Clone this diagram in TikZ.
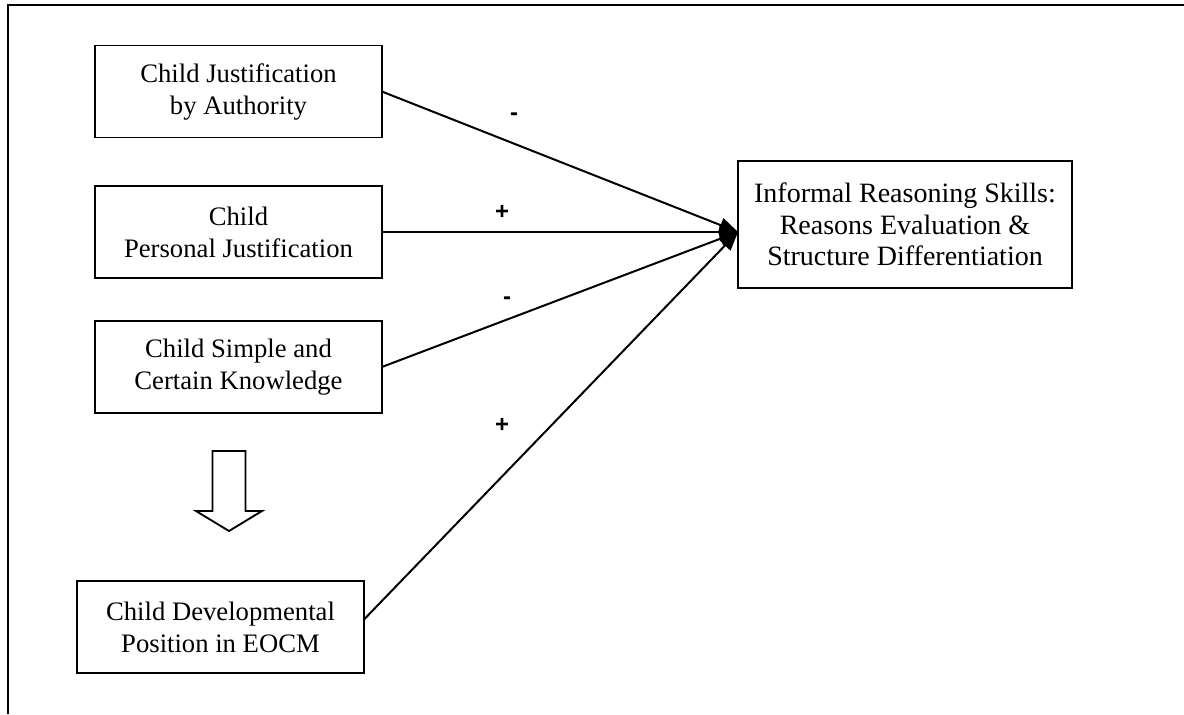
\documentclass[tikz,border=0pt]{standalone}
\usepackage{fontspec}
\setmainfont{Liberation Serif}
\newfontfamily\signfont{Liberation Sans}
\usetikzlibrary{arrows.meta}
\begin{document}
\begin{tikzpicture}[x=0.75pt,y=-0.75pt,
  every node/.style={inner sep=0pt, outer sep=0pt},
  varbox/.style={draw, line width=1.4pt, minimum width=215pt, minimum height=69pt,
    align=center, font=\fontsize{20}{24}\selectfont},
  outbox/.style={draw, line width=1.4pt, minimum width=250pt, minimum height=95pt,
    align=center, font=\fontsize{21}{23.5}\selectfont},
  path/.style={line width=1.5pt, -{Triangle[length=14pt,width=11pt]}},
  sign/.style={font=\signfont\bfseries\fontsize{18}{20}\selectfont}]
\useasboundingbox (0,0) rectangle (1184,714);

% open frame: top and left edges only
\draw[line width=1.5pt] (1184,5) -- (8,5) -- (8,714);

% predictors
\node[varbox] (auth) at (238.5,91.5) {Child Justification\\ by Authority};
\node[varbox] (pers) at (238.5,232) {Child\\Personal Justification};
\node[varbox] (simp) at (238.5,367) {Child Simple and\\Certain Knowledge};
\node[varbox] (dev)  at (220.5,627) {Child Developmental\\Position in EOCM};

% outcome
\node[outbox] (irs) at (905,224.5) {Informal Reasoning Skills:\\Reasons Evaluation \&\\Structure Differentiation};
\coordinate (tip) at (738,232);

% paths into the outcome
\draw[path] (auth.east) -- (tip);
\draw[path] (pers.east) -- (tip);
\draw[path] (simp.east) -- (tip);
\draw[path] ([yshift=5.5pt]dev.east) -- (tip);

% signs
\node[sign] (s1) at (514,117) {-};
\node[sign] (s2) at (502,212) {+};
\node[sign] (s3) at (507,301) {-};
\node[sign] (s4) at (502,425) {+};

% hollow block arrow from knowledge to developmental position
\draw[line width=1.4pt, line join=miter]
  (212.5,451) -- (245.5,451) -- (245.5,511) -- (262,511) -- (229,531)
  -- (196,511) -- (212.5,511) -- cycle;
\end{tikzpicture}
\end{document}
